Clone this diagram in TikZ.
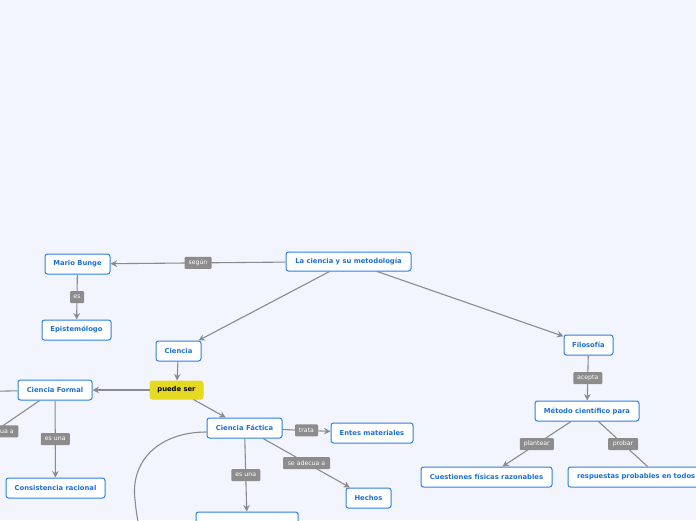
\documentclass[tikz,border=0pt]{standalone}
\usepackage{fontspec}
\setmainfont{DejaVu Sans}
\usetikzlibrary{arrows.meta}
\definecolor{bgc}{HTML}{F2F5FD}
\definecolor{bcol}{HTML}{2A80E6}
\definecolor{tcol}{HTML}{1C6FD6}
\definecolor{ecol}{HTML}{8A8B90}
\definecolor{lgray}{HTML}{8C8C8C}
\definecolor{ylw}{HTML}{E5D921}
\tikzset{
  topic/.style={draw=bcol, fill=white, rounded corners=2.5pt, line width=1pt,
    text=tcol, font=\bfseries\fontsize{6.8}{8}\selectfont, minimum height=20pt, inner sep=0pt},
  lbl/.style={fill=lgray, text=white, font=\fontsize{6.2}{7}\selectfont,
    rounded corners=1pt, inner sep=0pt, minimum height=12pt},
  conn/.style={draw=ecol, line width=1.1pt, -{Stealth[length=6.5pt,width=6.5pt]}},
  plain/.style={draw=ecol, line width=1.1pt}
}
\begin{document}
\begin{tikzpicture}[x=1pt,y=-1pt]
\fill[bgc] (0,0) rectangle (696,520);
\useasboundingbox (0,0) rectangle (696,520);
\clip (0,0) rectangle (696,520);

\node[topic, minimum width=125pt, minimum height=19pt] (root) at (348.5,261.5) {La ciencia y su metodología};
\node[topic, minimum width=65pt] (bunge) at (77.5,264) {Mario Bunge};
\node[topic, minimum width=69pt] (epist) at (76.5,330) {Epistemólogo};
\node[topic, minimum width=45pt] (ciencia) at (178.5,351) {Ciencia};
\node[topic, fill=ylw, draw=ylw, text=black, minimum width=53pt, minimum height=18pt] (puede) at (176.5,390) {puede ser};
\node[topic, minimum width=74pt] (cformal) at (55,390) {Ciencia Formal};
\node[topic, minimum width=99pt] (consist) at (55.5,488) {Consistencia racional};
\node[topic, minimum width=75pt] (cfact) at (244.5,428) {Ciencia Fáctica};
\node[topic, minimum width=82pt] (entes) at (372,433) {Entes materiales};
\node[topic, minimum width=45pt] (hechos) at (368.5,498) {Hechos};
\node[topic, minimum width=102pt] (bot) at (247,522) {};
\node[topic, minimum width=49pt] (filos) at (588.5,345) {Filosofía};
\node[topic, minimum width=104pt] (metodo) at (587,411) {Método científico para};
\node[topic, minimum width=131pt] (cuest) at (486.5,477) {Cuestiones físicas razonables};
\node[topic, minimum width=182pt, text width=164pt, align=left] (resp) at (659,477) {respuestas probables en todos};

\coordinate (offL) at (-40,392);
\coordinate (offA) at (-50,462);

\draw[conn] (root) -- node[lbl, minimum width=27pt]{según} (bunge);
\draw[conn] (bunge) -- node[lbl, minimum width=14pt]{es} (epist);
\draw[conn] (root) -- (ciencia);
\draw[conn] (root) -- (filos);
\draw[conn] (ciencia) -- (puede);
\draw[conn] (puede) -- (cformal);
\draw[conn] (puede) -- (cfact);
\draw[plain] (cformal) -- (offL);
\draw[plain] (cformal) -- node[lbl, minimum width=47pt]{se adecua a} (offA);
\draw[conn] (cformal) -- node[lbl, minimum width=29pt]{es una} (consist);
\draw[conn] (cfact) -- node[lbl, minimum width=23pt]{trata} (entes);
\draw[conn] (cfact) -- node[lbl, minimum width=47pt]{se adecua a} (hechos);
\draw[conn] (cfact) -- node[lbl, minimum width=29pt]{es una} (bot);
\draw[plain] ([yshift=-4pt]cfact.west) .. controls (160,432) and (130,460) .. (135,500)
  .. controls (136,510) and (137,518) .. (140,530);
\draw[conn] (filos) -- node[lbl, minimum width=29pt]{acepta} (metodo);
\draw[conn] (metodo) -- node[lbl, minimum width=34pt]{plantear} (cuest);
\draw[plain] (metodo) -- node[lbl, minimum width=30pt]{probar} (resp);
\end{tikzpicture}
\end{document}
